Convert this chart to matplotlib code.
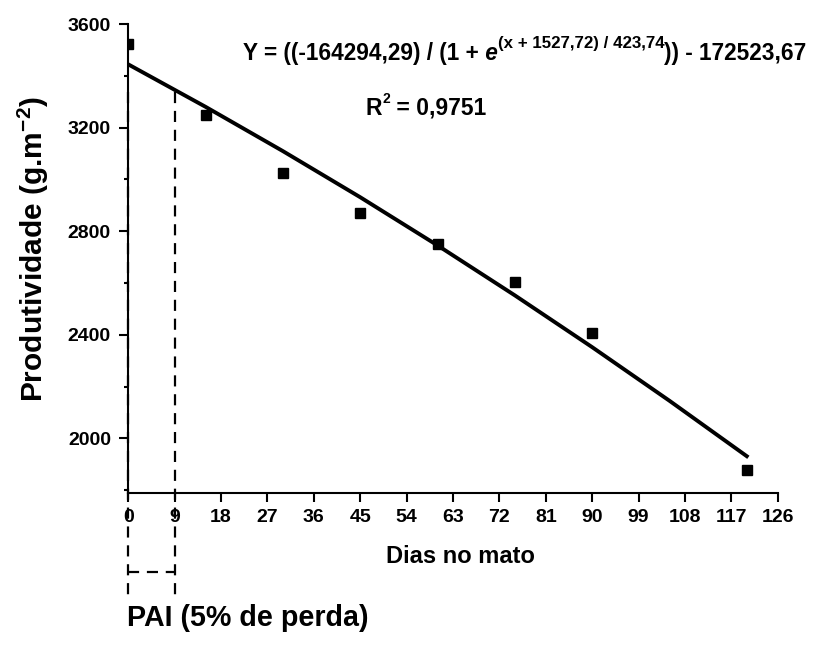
import matplotlib
matplotlib.use("Agg")
import matplotlib.pyplot as plt

plt.rcParams['font.family'] = ['Liberation Sans', 'DejaVu Sans']
plt.rcParams['font.weight'] = 'bold'
plt.rcParams['mathtext.fontset'] = 'custom'
plt.rcParams['mathtext.rm'] = 'Liberation Sans:bold'
plt.rcParams['mathtext.bf'] = 'Liberation Sans:bold'
plt.rcParams['mathtext.it'] = 'Liberation Sans:italic:bold'

# dados observados
dias = [0, 15, 30, 45, 60, 75, 90, 120]
produtividade = [3521, 3248, 3023, 2870, 2750, 2604, 2408, 1879]

# curva ajustada
dias_ajuste = [0, 15, 30, 45, 60, 75, 90, 105, 120]
prod_ajuste = [3444, 3280, 3109, 2931, 2745, 2552, 2352, 2145, 1931]

xticks = list(range(0, 127, 9))
yticks = [2000, 2400, 2800, 3200, 3600]

pai = 9          # periodo anterior a interferencia (dias)
prod_pai = 3338  # produtividade no PAI

fig = plt.figure(figsize=(8.2, 6.47), dpi=100)
ax = fig.add_axes([0.1565, 0.2385, 0.7919, 0.7244])

ax.plot(dias_ajuste, prod_ajuste, color='black', lw=2.8, zorder=3)
ax.plot(dias, produtividade, ls='none', marker='s', ms=7.3, color='black', zorder=4)

# linhas tracejadas do PAI
dash = dict(color='black', lw=1.6, ls=(0, (5, 3.5)), clip_on=False, zorder=2)
ax.plot([0, 0], [prod_pai, 1374], **dash)
ax.plot([pai, pai], [prod_pai, 1374], **dash)
ax.plot([0, pai], [1483, 1483], **dash)

ax.set_xlim(0, 126)
ax.set_ylim(1790, 3600)
ax.set_xticks(xticks)
ax.set_yticks(yticks)
ax.set_yticks([1800, 2200, 2600, 3000, 3400], minor=True)

for s in ['top', 'right']:
    ax.spines[s].set_visible(False)
for s in ['left', 'bottom']:
    ax.spines[s].set_linewidth(1.5)

ax.tick_params(axis='both', which='major', direction='out', length=6.5, width=1.5, labelsize=14)
ax.tick_params(axis='x', pad=5)
ax.tick_params(axis='y', pad=6)
ax.tick_params(axis='y', which='minor', direction='out', length=3, width=1.5)

ax.set_xlabel("Dias no mato", fontsize=17, fontweight='bold', labelpad=14, x=0.512)
ax.set_ylabel(r"Produtividade (g.m$^{\mathbf{-2}}$)", fontsize=21.5, fontweight='bold',
              labelpad=12, y=0.52)

# equacao
fs = 16.3
t1 = fig.text(0.2963, 0.9077, "Y = ((-164294,29) / (1 +", fontsize=fs, fontweight='bold', va='baseline')
t2 = ax.annotate(" e", xy=(1, 0), xycoords=t1, va='bottom', fontsize=fs,
                 fontstyle='italic', fontweight='bold', annotation_clip=False)
t3 = ax.annotate("(x + 1527,72) / 423,74", xy=(1, 0.6), xycoords=t2, va='bottom',
                 fontsize=12.2, fontweight='bold', annotation_clip=False)
ax.annotate(")) - 172523,67", xy=(1, 0), xycoords=(t3, t2), va='bottom', fontsize=fs,
            fontweight='bold', annotation_clip=False)

t5 = fig.text(0.4463, 0.8227, "R", fontsize=16.5, fontweight='bold', va='baseline')
t6 = ax.annotate("2", xy=(1, 0.6), xycoords=t5, va='bottom', fontsize=10,
                 fontweight='bold', annotation_clip=False)
ax.annotate(" = 0,9751", xy=(1, 0), xycoords=(t6, t5), va='bottom', fontsize=16.5,
            fontweight='bold', annotation_clip=False)

fig.text(0.1545, 0.0325, "PAI (5% de perda)", fontsize=20.6, fontweight='bold', va='baseline')

fig.savefig("out.png", dpi=100)
